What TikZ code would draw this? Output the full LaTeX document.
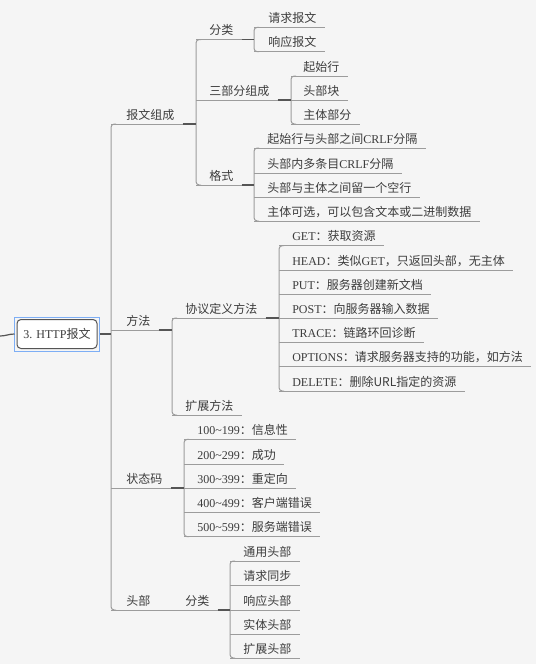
\documentclass[tikz,border=0pt]{standalone}
\usepackage{fontspec}
\setmainfont{Noto Sans CJK SC}
\newfontfamily\lat{Liberation Serif}
\usetikzlibrary{calc}
\definecolor{bg}{HTML}{F5F5F5}
\definecolor{tx}{HTML}{3C3C3C}
\definecolor{ul}{HTML}{9C9C9C}
\definecolor{st}{HTML}{555555}
\definecolor{sel}{HTML}{7DAEF5}
\newcommand\la[1]{{\lat #1}}
\newcommand\kid[5]{%
  \node[txt] (#1) at (#3,#4-5) {#5};
  \draw[uline] (#2,#4) -- ($(#1.base east)+(8,5)$);}
\newcommand\stub[3]{\draw[stubline] ($(#1.base east)+(8,5)$) -- (#2,#3);}
\newcommand\brk[3]{\draw[uline,rounded corners=2.5pt] (#1+5,#2) -- (#1,#2) -- (#1,#3) -- (#1+5,#3);}
\begin{document}
\begin{tikzpicture}[x=0.75pt,y=-0.75pt,
  txt/.style={anchor=base west,inner sep=0pt,text=tx,font=\fontsize{9pt}{11pt}\selectfont},
  uline/.style={draw=ul,line width=0.75pt},
  stubline/.style={draw=st,line width=0.9pt}]
\useasboundingbox (0,0) rectangle (536,664);
\fill[bg] (0,0) rectangle (536,664);
% root
\node[draw=st,fill=white,rounded corners=3pt,minimum width=60pt,minimum height=21.75pt,
  inner sep=0pt,text=tx,font=\fontsize{9pt}{11pt}\selectfont,line width=0.75pt] (root) at (57,334) {\la{3. HTTP}报文};
\draw[sel,line width=0.75pt] ($(root.north west)+(-2,-2)$) rectangle ($(root.south east)+(2,2)$);
\coordinate (L) at (0,336);
\draw[stubline] (L) to[out=0,in=180] ($(root.west)+(-2,0)$);
% level 1
\kid{a}{111}{126}{124}{报文组成}
\kid{b}{111}{126}{330}{方法}
\kid{c}{111}{126}{488}{状态码}
\kid{d}{111}{126}{610}{头部}
\brk{111}{124}{610}
\draw[stubline] ($(root.east)+(2,0)$) -- (111,334);
% 报文组成
\kid{a1}{196}{209}{39.5}{分类}
\kid{a2}{196}{209}{100}{三部分组成}
\kid{a3}{196}{209}{185}{格式}
\brk{196}{39.5}{185}
\stub{a}{196}{124}
\kid{a11}{254}{268}{27.3}{请求报文}
\kid{a12}{254}{268}{51.7}{响应报文}
\brk{254}{27.3}{51.7}
\stub{a1}{254}{39.5}
\kid{a21}{291}{303}{76}{起始行}
\kid{a22}{291}{303}{100}{头部块}
\kid{a23}{291}{303}{124}{主体部分}
\brk{291}{76}{124}
\stub{a2}{291}{100}
\kid{a31}{254}{267}{148}{起始行与头部之间\la{CRLF}分隔}
\kid{a32}{254}{267}{173}{头部内多条目\la{CRLF}分隔}
\kid{a33}{254}{267}{197}{头部与主体之间留一个空行}
\kid{a34}{254}{267}{221}{主体可选，可以包含文本或二进制数据}
\brk{254}{148}{221}
\stub{a3}{254}{185}
% 方法
\kid{b1}{172}{185}{318}{协议定义方法}
\kid{b2}{172}{185}{415}{扩展方法}
\brk{172}{318}{415}
\stub{b}{172}{330}
\kid{b11}{279}{292}{245.7}{\la{GET}：获取资源}
\kid{b12}{279}{292}{270}{\la{HEAD}：类似\la{GET}，只返回头部，无主体}
\kid{b13}{279}{292}{294}{\la{PUT}：服务器创建新文档}
\kid{b14}{279}{292}{318.7}{\la{POST}：向服务器输入数据}
\kid{b15}{279}{292}{342.7}{\la{TRACE}：链路环回诊断}
\kid{b16}{279}{292}{366.7}{\la{OPTIONS}：请求服务器支持的功能，如方法}
\kid{b17}{279}{292}{391}{\la{DELETE}：删除URL指定的资源}
\brk{279}{245.7}{391}
\stub{b1}{279}{318}
% 状态码
\kid{c1}{184}{197}{439.3}{\la{100\string~199}：信息性}
\kid{c2}{184}{197}{464}{\la{200\string~299}：成功}
\kid{c3}{184}{197}{488}{\la{300\string~399}：重定向}
\kid{c4}{184}{197}{512}{\la{400\string~499}：客户端错误}
\kid{c5}{184}{197}{536.7}{\la{500\string~599}：服务端错误}
\brk{184}{439.3}{536.7}
\stub{c}{184}{488}
% 头部
\kid{d1}{157}{185}{610}{分类}
\kid{d11}{230}{243}{561}{通用头部}
\kid{d12}{230}{243}{585}{请求同步}
\kid{d13}{230}{243}{610}{响应头部}
\kid{d14}{230}{243}{634}{实体头部}
\kid{d15}{230}{243}{658}{扩展头部}
\brk{230}{561}{658}
\stub{d1}{230}{610}
\end{tikzpicture}
\end{document}
